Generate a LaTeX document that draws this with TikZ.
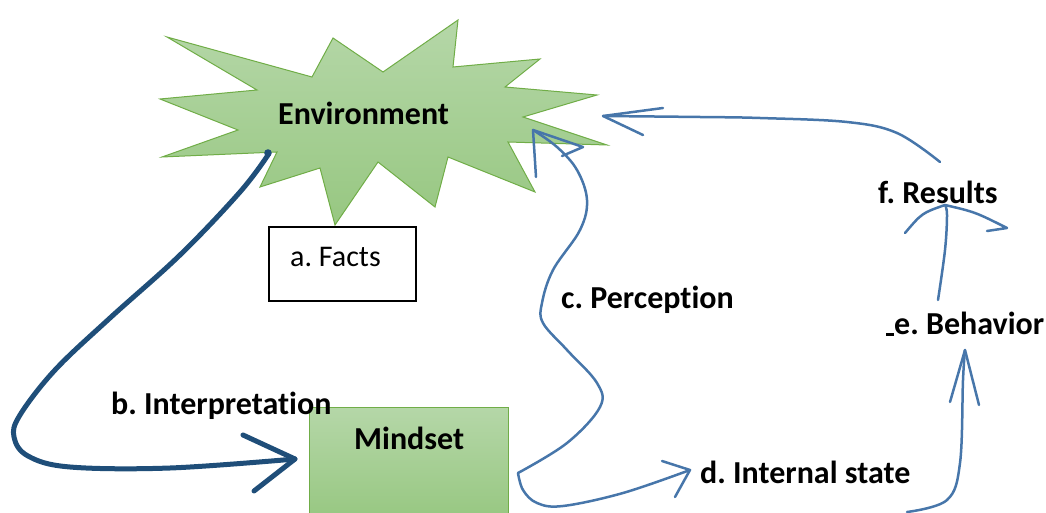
\documentclass[tikz,border=0pt]{standalone}
\usepackage{fontspec}
\setmainfont{Carlito}[Ligatures=NoCommon]
\frenchspacing
\definecolor{grn}{HTML}{70AD47}
\definecolor{gtop}{HTML}{B5D7A8}
\definecolor{gbot}{HTML}{97C781}
\definecolor{dblue}{HTML}{1F4E79}
\definecolor{mblue}{HTML}{4776AA}
\tikzset{
  lbl/.style={inner sep=0, anchor=base west, font=\fontsize{32}{38}\selectfont\bfseries},
  plainlbl/.style={inner sep=0, anchor=base west, font=\fontsize{30}{36}\selectfont},
  greenfill/.style={draw=grn, line width=1pt, top color=gtop, bottom color=gbot},
  thickline/.style={draw=dblue, line width=5pt, line cap=round, line join=round},
  blueline/.style={draw=mblue, line width=2.5pt, line cap=round, line join=round},
}
\begin{document}
\begin{tikzpicture}[x=1pt,y=-1pt]
\useasboundingbox (0,0) rectangle (1046,513);
% starburst
\path[greenfill] (167,37) -- (312,77) -- (333,38) -- (383,72) -- (458,20) -- (453,67)
  -- (540,59) -- (505,87) -- (597,95) -- (523,117) -- (607,145) -- (508,142)
  -- (535,192) -- (448,157) -- (435,207) -- (378,162) -- (335,225) -- (320,168)
  -- (260,187) -- (277,152) -- (162,157) -- (238,130) -- (160,99) -- (257,90) -- cycle;
\node[lbl] (env) at (278,125) {Environment};
% facts box
\draw[line width=1.2pt] (269,227) rectangle (416,301);
\node[plainlbl] (facts) at (290,266) {a. Facts};
% mindset box
\path[greenfill] (309,407) rectangle (508,520);
\node[lbl] (mindset) at (354,449) {Mindset};
% labels
\node[lbl] (interp) at (111,414) {b. Interpretation};
\node[lbl] (perc) at (561,308) {c. Perception};
\node[lbl] (state) at (700,483) {d. Internal state};
\node[lbl] (behav) at (894,334) {e. Behavior};
\fill (886,333) rectangle (894,335.5);
\node[lbl] (res) at (878,204) {f. Results};
% coordinates
\coordinate (iS) at (268,155);
\coordinate (iT) at (295,459);
\coordinate (mR) at (518,473);
\coordinate (pT) at (533,130);
\coordinate (dT) at (690,470);
\coordinate (rS) at (940,162);
\coordinate (rT) at (603,116);
\coordinate (bS) at (938,300);
\coordinate (bT) at (945,205);
\coordinate (sS) at (907,512);
\coordinate (sT) at (965,350);
% b. interpretation
\fill[dblue] (268,153) circle (3.8);
\draw[thickline] plot[smooth, tension=0.6] coordinates {(iS) (240,192) (180,255) (110,318) (55,370) (20,415) (14,437) (28,456) (70,467) (170,468) (iT)};
\draw[thickline] (243,435) -- (iT) -- (254,491);
% c. perception
\draw[blueline] plot[smooth, tension=0.6] coordinates {(mR) (567,443) (600,407) (597,383) (567,350) (543,323) (542,303) (553,270) (580,230) (587,200) (577,170) (557,147) (pT)};
\draw[blueline] (536,177) -- (pT) -- (583,147) -- (562,156);
% d. internal state
\draw[blueline] plot[smooth, tension=0.6] coordinates {(mR) (523,490) (537,503) (563,506) (623,493) (dT)};
\draw[blueline] (662,461) -- (dT) -- (675,497);
% results -> environment
\draw[blueline] plot[smooth, tension=0.6] coordinates {(rS) (897,133) (847,122) (760,118) (700,117) (rT)};
\draw[blueline] (663,108) -- (rT) -- (643,135);
% behavior -> results
\draw[blueline] plot[smooth, tension=0.6] coordinates {(bS) (945,250) (947,215) (bT)};
\draw[blueline] (905,233) .. controls (922,213) .. (bT) .. controls (975,212) .. (1007,228) -- (987,231);
% internal state -> behavior
\draw[blueline] plot[smooth, tension=0.6] coordinates {(sS) (947,500) (960,463) (963,380) (sT)};
\draw[blueline] (950,402) -- (sT) -- (979,405);
\end{tikzpicture}
\end{document}
